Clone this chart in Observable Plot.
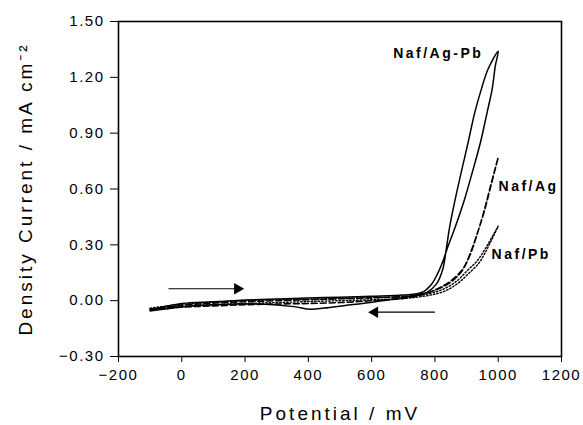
<!DOCTYPE html>
<html>
<head>
<meta charset="utf-8">
<script src="https://cdn.jsdelivr.net/npm/d3@7"></script>
<script src="https://cdn.jsdelivr.net/npm/@observablehq/plot@0.6"></script>
<style>
  html, body { margin: 0; padding: 0; background: white; }
  svg text { letter-spacing: 1.5px; }
  g.axislab text { letter-spacing: 3px; }
  g.curvelab text { letter-spacing: 2.5px; }
</style>
</head>
<body>
<div id="chart"></div>
<script>
// Tick values
const xTicks = [-200, 0, 200, 400, 600, 800, 1000, 1200];
const yTicks = [-0.30, 0.00, 0.30, 0.60, 0.90, 1.20, 1.50];

// Naf/Ag-Pb (solid) — forward then reverse scan
const agpbV = [-100, 0, 100, 200, 300, 400, 500, 600, 700, 760, 790, 807, 825, 839, 865, 891, 918, 944, 965, 981, 991, 1000,
               968, 947, 926, 905, 883, 862, 847, 836, 825, 805, 775, 730, 617, 512, 450, 407, 354, 250, 185, 100, 28, -100];
const agpbI = [-0.050, -0.015, -0.006, 0.003, 0.009, 0.014, 0.019, 0.024, 0.030, 0.045, 0.090, 0.140, 0.210, 0.280, 0.400, 0.530, 0.689, 0.851, 1.012, 1.138, 1.263, 1.340,
               1.245, 1.138, 1.012, 0.851, 0.689, 0.528, 0.400, 0.280, 0.170, 0.090, 0.045, 0.025, -0.004, -0.027, -0.040, -0.046, -0.032, -0.018, -0.018, -0.022, -0.028, -0.055];

// Naf/Ag (dashed)
const agV = [-100, 0, 100, 200, 300, 400, 500, 600, 700, 733, 797, 849, 886, 912, 934, 954, 976, 1000,
             978, 956, 936, 914, 890, 858, 818, 760, 700, 600, 500, 400, 300, 200, 100, 0, -100];
const agI = [-0.045, -0.025, -0.013, -0.006, 0.000, 0.005, 0.010, 0.015, 0.022, 0.027, 0.054, 0.098, 0.161, 0.250, 0.360, 0.474, 0.618, 0.770,
             0.625, 0.480, 0.372, 0.265, 0.175, 0.117, 0.072, 0.032, 0.012, 0.000, -0.010, -0.015, -0.018, -0.022, -0.028, -0.035, -0.050];

// Naf/Pb (dotted)
const pbV = [-100, 0, 100, 200, 300, 400, 500, 600, 700, 776, 828, 870, 902, 934, 965, 1000,
             980, 958, 938, 906, 874, 832, 780, 700, 600, 500, 400, 300, 200, 100, 0, -100];
const pbI = [-0.040, -0.020, -0.008, 0.000, 0.005, 0.008, 0.012, 0.016, 0.022, 0.036, 0.063, 0.107, 0.161, 0.215, 0.296, 0.400,
             0.330, 0.255, 0.200, 0.145, 0.095, 0.052, 0.028, 0.012, 0.005, 0.000, -0.005, -0.010, -0.015, -0.022, -0.030, -0.045];

// Curve labels
const labNames = ["Naf/Ag-Pb", "Naf/Ag", "Naf/Pb"];
const labV = [953, 1001, 979];
const labI = [1.33, 0.613, 0.247];
const labAnchor = ["end", "start", "start"];

// Scan direction arrows: [start potential, head potential, current]
const arrowStartV = [-42, 800];
const arrowHeadV = [176, 610];
const arrowI = [0.064, -0.062];
const arrowRot = [90, -90];

const xLabel = "Potential / mV";
const yLabel = "Density Current / mA cm\u207B\u00B2";

const toRows = (V, I) => V.map((v, i) => ({v, i: I[i]}));
const labels = labNames.map((n, k) => ({n, v: labV[k], i: labI[k], a: labAnchor[k]}));
const arrows = arrowStartV.map((s, k) => ({s, h: arrowHeadV[k], i: arrowI[k], r: arrowRot[k]}));

const plot = Plot.plot({
  width: 583,
  height: 425,
  marginLeft: 118,
  marginRight: 22,
  marginTop: 21,
  marginBottom: 69,
  style: {fontFamily: "'Liberation Sans', Arial, sans-serif", fontSize: "15px", background: "white", color: "black"},
  x: {domain: [-200, 1200], ticks: xTicks, tickFormat: d3.format("d"), tickSize: 6, tickPadding: 7, label: null},
  y: {domain: [-0.3, 1.5], ticks: yTicks, tickFormat: d3.format(".2f"), tickSize: 8, tickPadding: 6, label: null},
  marks: [
    Plot.frame({stroke: "black", strokeWidth: 1.6}),
    Plot.line(toRows(agpbV, agpbI), {x: "v", y: "i", stroke: "black", strokeWidth: 1.5, curve: "catmull-rom"}),
    Plot.line(toRows(agV, agI), {x: "v", y: "i", stroke: "black", strokeWidth: 1.6, strokeDasharray: "6,3", curve: "catmull-rom"}),
    Plot.line(toRows(pbV, pbI), {x: "v", y: "i", stroke: "black", strokeWidth: 1.4, strokeDasharray: "1.5,2", curve: "catmull-rom"}),
    Plot.link(arrows, {x1: "s", x2: "h", y1: "i", y2: "i", stroke: "black", strokeWidth: 1.2}),
    Plot.dot(arrows, {x: "h", y: "i", symbol: "triangle", r: 4.3, rotate: "r", fill: "black", stroke: "none"}),
    Plot.text(labels.filter(d => d.a === "end"), {x: "v", y: "i", text: "n", textAnchor: "end", fontSize: 14, fontWeight: "bold", className: "curvelab"}),
    Plot.text(labels.filter(d => d.a === "start"), {x: "v", y: "i", text: "n", textAnchor: "start", fontSize: 14, fontWeight: "bold", className: "curvelab"}),
    Plot.text([xLabel], {text: d => d, frameAnchor: "bottom", textAnchor: "middle", lineAnchor: "middle", dy: 57, fontSize: 19, className: "axislab"}),
    Plot.text([yLabel], {text: d => d, frameAnchor: "left", textAnchor: "middle", lineAnchor: "middle", dx: -93, rotate: -90, fontSize: 19, className: "axislab"})
  ]
});
document.getElementById("chart").appendChild(plot);
</script>
</body>
</html>
